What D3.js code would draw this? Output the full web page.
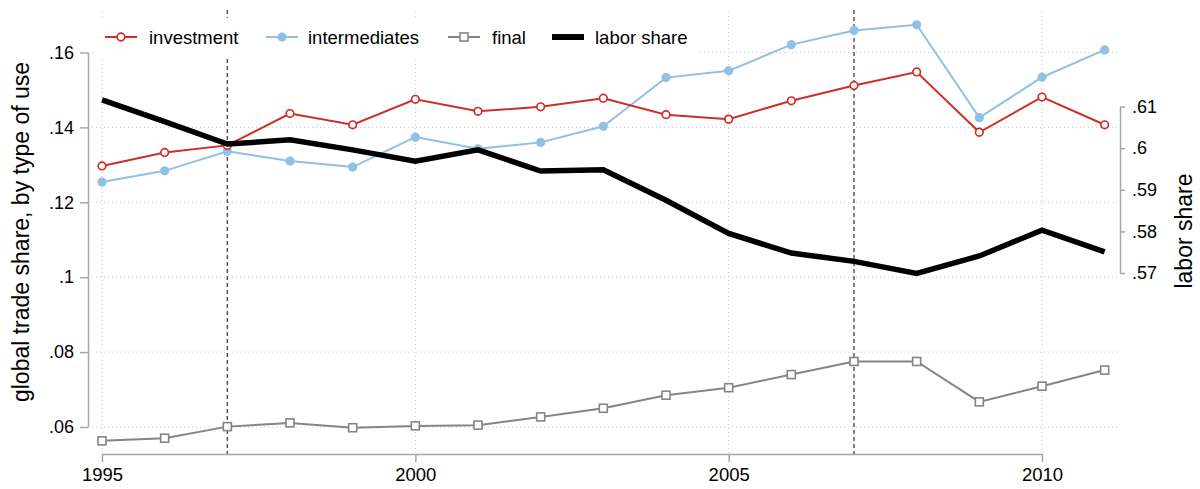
<!DOCTYPE html>
<html>
<head>
<meta charset="utf-8">
<script src="https://cdn.jsdelivr.net/npm/d3@7"></script>
<style>
  body { margin: 0; background: #fff; }
  svg { display: block; font-family: "Liberation Sans", Arial, Helvetica, sans-serif; }
</style>
</head>
<body>
<svg width="1200" height="489"></svg>
<script>
// data
const years = [1995,1996,1997,1998,1999,2000,2001,2002,2003,2004,2005,2006,2007,2008,2009,2010,2011];
const investment = [0.1297,0.1333,0.1352,0.1437,0.1407,0.1475,0.1443,0.1455,0.1478,0.1434,0.1422,0.1471,0.1512,0.1548,0.1387,0.1481,0.1407];
const intermediates = [0.1254,0.1284,0.1336,0.1310,0.1294,0.1374,0.1343,0.1360,0.1403,0.1533,0.1551,0.1621,0.1659,0.1674,0.1426,0.1534,0.1607];
const finalUse = [0.0563,0.0570,0.0601,0.0611,0.0598,0.0603,0.0605,0.0627,0.0650,0.0685,0.0705,0.0740,0.0775,0.0775,0.0667,0.0709,0.0752];
const laborShare = [0.6116,0.6064,0.6010,0.6020,0.5996,0.5969,0.5996,0.5945,0.5948,0.5875,0.5795,0.5748,0.5728,0.5699,0.5741,0.5803,0.5751];

const xTicks = [1995,2000,2005,2010];
const leftTicks = [0.06,0.08,0.1,0.12,0.14,0.16];
const leftLabels = ['.06','.08','.1','.12','.14','.16'];
const rightTicks = [0.57,0.58,0.59,0.6,0.61];
const rightLabels = ['.57','.58','.59','.6','.61'];
const markYears = [1997,2007];

const svg = d3.select('svg');

const x = d3.scaleLinear().domain([1995,2010]).range([102,1042]);
const yL = d3.scaleLinear().domain([0.06,0.16]).range([427,52.5]);
const yR = d3.scaleLinear().domain([0.57,0.61]).range([273,106.6]);

const plotRight = 1118, plotTop = 12, plotBottom = 454;

// grid //////////////////////
svg.append('g').selectAll('line').data(leftTicks).enter().append('line')
  .attr('x1',88).attr('x2',plotRight)
  .attr('y1',d=>yL(d)).attr('y2',d=>yL(d))
  .attr('stroke','#c8c8c8').attr('stroke-width',1).attr('stroke-dasharray','1,3');

svg.append('g').selectAll('line').data(xTicks).enter().append('line')
  .attr('x1',d=>x(d)).attr('x2',d=>x(d))
  .attr('y1',plotTop).attr('y2',plotBottom)
  .attr('stroke','#c8c8c8').attr('stroke-width',1).attr('stroke-dasharray','1,3');

// vertical dashed markers
svg.append('g').selectAll('line').data(markYears).enter().append('line')
  .attr('x1',d=>x(d)).attr('x2',d=>x(d))
  .attr('y1',10).attr('y2',plotBottom)
  .attr('stroke','#4d4d4d').attr('stroke-width',1.4).attr('stroke-dasharray','4,3');

// legend background
svg.append('rect').attr('x',96).attr('y',18).attr('width',604).attr('height',39).attr('fill','#fff');

// axes ////////////////////////
function styleAxis(g){
  g.selectAll('.domain').attr('stroke','#a6a6a6').attr('stroke-width',1.5);
  g.selectAll('.tick line').attr('stroke','#a6a6a6').attr('stroke-width',1.5);
  g.selectAll('.tick text').attr('fill','#000').attr('font-family','"Liberation Sans", Arial, sans-serif');
}

const gx = svg.append('g').attr('transform',`translate(0,${plotBottom})`)
  .call(d3.axisBottom(x).tickValues(xTicks).tickFormat(d3.format('d')).tickSize(8).tickSizeOuter(0).tickPadding(6));
styleAxis(gx);
gx.selectAll('.tick text').attr('font-size',18.5);

const gl = svg.append('g').attr('transform','translate(88,0)')
  .call(d3.axisLeft(yL).tickValues(leftTicks).tickFormat((d,i)=>leftLabels[i]).tickSize(8).tickSizeOuter(0).tickPadding(6));
styleAxis(gl);
gl.selectAll('.tick text').attr('font-size',18);

const gr = svg.append('g').attr('transform','translate(1120,0)')
  .call(d3.axisRight(yR).tickValues(rightTicks).tickFormat((d,i)=>rightLabels[i]).tickSize(5).tickSizeOuter(0).tickPadding(7));
styleAxis(gr);
gr.selectAll('.tick text').attr('font-size',18);

// axis titles
svg.append('text').text('global trade share, by type of use')
  .attr('transform','translate(29,232) rotate(-90)')
  .attr('text-anchor','middle').attr('font-size',23).attr('fill','#000');
svg.append('text').text('labor share')
  .attr('transform','translate(1192,231) rotate(-90)')
  .attr('text-anchor','middle').attr('font-size',23).attr('fill','#000');

// series /////////////////////
const red = '#cc2f27', blue = '#8fc1e6', gray = '#858585';

const lineL = vals => d3.line().x((d,i)=>x(years[i])).y(d=>yL(d))(vals);
const lineR = vals => d3.line().x((d,i)=>x(years[i])).y(d=>yR(d))(vals);

// final
svg.append('path').attr('d',lineL(finalUse)).attr('fill','none').attr('stroke',gray).attr('stroke-width',2);
svg.selectAll('.fin').data(finalUse).enter().append('rect').attr('class','fin')
  .attr('x',(d,i)=>x(years[i])-4).attr('y',d=>yL(d)-4)
  .attr('width',8).attr('height',8)
  .attr('fill','#fff').attr('stroke',gray).attr('stroke-width',1.6);

// intermediates
svg.append('path').attr('d',lineL(intermediates)).attr('fill','none').attr('stroke',blue).attr('stroke-width',2);
svg.selectAll('.int').data(intermediates).enter().append('circle').attr('class','int')
  .attr('cx',(d,i)=>x(years[i])).attr('cy',d=>yL(d)).attr('r',4.6)
  .attr('fill',blue);

// investment
svg.append('path').attr('d',lineL(investment)).attr('fill','none').attr('stroke',red).attr('stroke-width',2);
svg.selectAll('.inv').data(investment).enter().append('circle').attr('class','inv')
  .attr('cx',(d,i)=>x(years[i])).attr('cy',d=>yL(d)).attr('r',3.8)
  .attr('fill','#fff').attr('stroke',red).attr('stroke-width',1.7);

// labor share
svg.append('path').attr('d',lineR(laborShare)).attr('fill','none').attr('stroke','#000').attr('stroke-width',5.5).attr('stroke-linejoin','miter');

// legend ////////////////////
const legendItems = [
  {label:'investment', x:105, tx:149, color:red, mark:'hollowCircle', w:2},
  {label:'intermediates', x:266, tx:308, color:blue, mark:'dot', w:2},
  {label:'final', x:448, tx:492, color:gray, mark:'square', w:2},
  {label:'labor share', x:552, tx:595, color:'#000', mark:'none', w:6}
];
const lg = svg.append('g');
legendItems.forEach(it=>{
  const cy = 37;
  lg.append('line').attr('x1',it.x).attr('x2',it.x+32).attr('y1',cy).attr('y2',cy)
    .attr('stroke',it.color).attr('stroke-width',it.w);
  const cx = it.x+16;
  if(it.mark==='hollowCircle'){
    lg.append('circle').attr('cx',cx).attr('cy',cy).attr('r',3.8).attr('fill','#fff').attr('stroke',it.color).attr('stroke-width',1.7);
  } else if(it.mark==='dot'){
    lg.append('circle').attr('cx',cx).attr('cy',cy).attr('r',4.6).attr('fill',it.color);
  } else if(it.mark==='square'){
    lg.append('rect').attr('x',cx-4).attr('y',cy-4).attr('width',8).attr('height',8).attr('fill','#fff').attr('stroke',it.color).attr('stroke-width',1.6);
  }
  lg.append('text').text(it.label).attr('x',it.tx).attr('y',cy+6.5)
    .attr('font-size',18.5).attr('fill','#000');
});
</script>
</body>
</html>
